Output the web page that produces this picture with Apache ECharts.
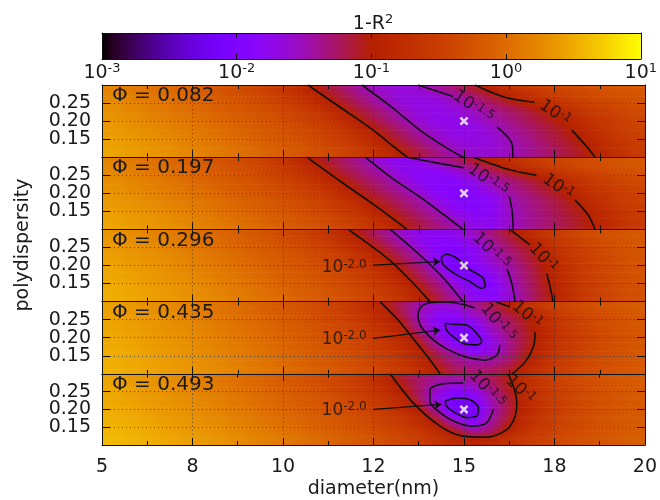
<!DOCTYPE html>
<html><head><meta charset="utf-8">
<script src="https://cdn.jsdelivr.net/npm/echarts@6/dist/echarts.min.js"></script>
<style>html,body{margin:0;padding:0;background:#fff}#c{width:660px;height:500px}</style>
</head><body><div id="c"></div>
<script>
// ---------------- data ----------------
const diameters = [5.25,5.75,6.25,6.75,7.25,7.75,8.25,8.75,9.25,9.75,10.25,10.75,11.25,11.75,12.25,12.75,13.25,13.75,14.25,14.75,15.25,15.75,16.25,16.75,17.25,17.75,18.25,18.75,19.25,19.75];
const polydispersities = [0.2875,0.2625,0.2375,0.2125,0.1875,0.1625,0.1375,0.1125];
const phiValues = ['0.082','0.197','0.296','0.435','0.493'];
const xTickLabels = ['5','8','10','12','15','18','20'];
const yTickLabels = ['0.15','0.20','0.25'];
const cbarExponents = ['-3','-2','-1','0','1'];
const bestFit = [15, 0.20];

// log10(1-R^2), rows = polydispersities, columns = diameters
const logErrPhi082 = [
[0.20,0.14,0.07,0.00,-0.08,-0.16,-0.24,-0.33,-0.43,-0.55,-0.70,-0.94,-1.13,-1.30,-1.47,-1.61,-1.65,-1.60,-1.45,-1.29,-1.12,-0.93,-0.73,-0.60,-0.49,-0.41,-0.34,-0.28,-0.24,-0.20],
[0.25,0.19,0.12,0.05,-0.02,-0.10,-0.18,-0.26,-0.35,-0.45,-0.59,-0.76,-1.01,-1.18,-1.35,-1.53,-1.66,-1.70,-1.65,-1.51,-1.34,-1.17,-1.01,-0.79,-0.64,-0.53,-0.43,-0.36,-0.30,-0.25],
[0.29,0.23,0.17,0.10,0.03,-0.05,-0.13,-0.21,-0.29,-0.38,-0.49,-0.63,-0.83,-1.06,-1.23,-1.41,-1.59,-1.70,-1.71,-1.63,-1.47,-1.34,-1.21,-1.09,-0.93,-0.73,-0.59,-0.49,-0.41,-0.34],
[0.33,0.27,0.21,0.15,0.08,0.01,-0.07,-0.15,-0.23,-0.31,-0.41,-0.52,-0.68,-0.90,-1.11,-1.29,-1.47,-1.66,-1.74,-1.72,-1.60,-1.44,-1.32,-1.20,-1.07,-0.91,-0.72,-0.58,-0.48,-0.40],
[0.37,0.31,0.26,0.20,0.13,0.06,-0.01,-0.09,-0.17,-0.25,-0.34,-0.44,-0.56,-0.73,-0.97,-1.17,-1.36,-1.55,-1.70,-1.75,-1.70,-1.55,-1.40,-1.27,-1.15,-1.02,-0.81,-0.65,-0.54,-0.44],
[0.40,0.35,0.30,0.24,0.18,0.11,0.04,-0.04,-0.12,-0.20,-0.28,-0.37,-0.47,-0.61,-0.80,-1.04,-1.23,-1.42,-1.60,-1.70,-1.71,-1.63,-1.47,-1.34,-1.21,-1.09,-0.92,-0.73,-0.59,-0.49],
[0.43,0.38,0.33,0.28,0.22,0.15,0.08,0.01,-0.07,-0.15,-0.22,-0.31,-0.41,-0.52,-0.67,-0.89,-1.11,-1.29,-1.47,-1.62,-1.68,-1.65,-1.52,-1.39,-1.26,-1.14,-1.02,-0.81,-0.65,-0.53],
[0.46,0.41,0.36,0.31,0.25,0.19,0.12,0.05,-0.02,-0.10,-0.18,-0.26,-0.35,-0.45,-0.58,-0.75,-0.99,-1.16,-1.33,-1.50,-1.60,-1.61,-1.53,-1.41,-1.29,-1.18,-1.06,-0.89,-0.71,-0.57]];
const logErrPhi197 = [
[0.20,0.13,0.06,-0.01,-0.09,-0.17,-0.25,-0.34,-0.43,-0.56,-0.73,-0.96,-1.13,-1.29,-1.44,-1.68,-1.80,-1.71,-1.46,-1.29,-1.12,-0.93,-0.74,-0.60,-0.49,-0.41,-0.34,-0.29,-0.24,-0.20],
[0.24,0.18,0.11,0.04,-0.03,-0.11,-0.19,-0.27,-0.36,-0.47,-0.60,-0.78,-1.02,-1.18,-1.34,-1.50,-1.74,-1.84,-1.82,-1.65,-1.42,-1.24,-1.05,-0.83,-0.67,-0.55,-0.45,-0.38,-0.32,-0.26],
[0.28,0.22,0.16,0.09,0.02,-0.06,-0.14,-0.22,-0.30,-0.40,-0.51,-0.65,-0.86,-1.07,-1.23,-1.39,-1.60,-1.82,-1.90,-1.85,-1.68,-1.45,-1.30,-1.15,-1.01,-0.79,-0.64,-0.52,-0.43,-0.36],
[0.32,0.26,0.20,0.14,0.07,0.00,-0.08,-0.16,-0.24,-0.32,-0.42,-0.54,-0.70,-0.93,-1.12,-1.28,-1.44,-1.68,-1.88,-1.93,-1.84,-1.61,-1.41,-1.26,-1.12,-0.96,-0.75,-0.61,-0.50,-0.42],
[0.36,0.31,0.25,0.19,0.12,0.05,-0.02,-0.10,-0.18,-0.26,-0.35,-0.45,-0.58,-0.76,-1.00,-1.16,-1.32,-1.48,-1.77,-1.93,-1.93,-1.79,-1.49,-1.35,-1.21,-1.07,-0.88,-0.70,-0.57,-0.47],
[0.39,0.34,0.29,0.23,0.17,0.10,0.03,-0.05,-0.13,-0.21,-0.29,-0.38,-0.49,-0.63,-0.82,-1.05,-1.21,-1.37,-1.58,-1.84,-1.93,-1.83,-1.55,-1.39,-1.26,-1.13,-0.99,-0.77,-0.62,-0.52],
[0.43,0.38,0.33,0.27,0.21,0.15,0.07,0.00,-0.07,-0.15,-0.23,-0.32,-0.41,-0.53,-0.68,-0.90,-1.10,-1.26,-1.43,-1.67,-1.84,-1.81,-1.58,-1.41,-1.29,-1.17,-1.05,-0.85,-0.68,-0.56],
[0.46,0.41,0.36,0.31,0.25,0.19,0.12,0.05,-0.02,-0.10,-0.18,-0.26,-0.35,-0.45,-0.58,-0.75,-0.99,-1.16,-1.32,-1.48,-1.73,-1.77,-1.57,-1.41,-1.30,-1.18,-1.07,-0.91,-0.72,-0.58]];
const logErrPhi296 = [
[0.33,0.28,0.22,0.15,0.08,0.01,-0.07,-0.14,-0.22,-0.31,-0.41,-0.52,-0.67,-0.89,-1.12,-1.35,-1.58,-1.75,-1.80,-1.73,-1.55,-1.32,-1.09,-0.83,-0.62,-0.50,-0.38,-0.30,-0.24,-0.19],
[0.37,0.31,0.26,0.20,0.13,0.06,-0.01,-0.09,-0.17,-0.25,-0.34,-0.44,-0.56,-0.73,-0.97,-1.20,-1.44,-1.72,-1.88,-1.88,-1.70,-1.43,-1.23,-1.03,-0.77,-0.58,-0.45,-0.35,-0.28,-0.22],
[0.40,0.35,0.30,0.24,0.18,0.11,0.04,-0.04,-0.12,-0.20,-0.28,-0.37,-0.47,-0.61,-0.80,-1.05,-1.29,-1.56,-1.87,-1.97,-1.85,-1.52,-1.31,-1.12,-0.89,-0.65,-0.51,-0.40,-0.31,-0.25],
[0.43,0.38,0.33,0.28,0.22,0.15,0.08,0.01,-0.07,-0.15,-0.22,-0.31,-0.41,-0.52,-0.67,-0.89,-1.15,-1.40,-1.84,-2.07,-1.83,-1.60,-1.39,-1.18,-0.97,-0.71,-0.54,-0.42,-0.33,-0.26],
[0.46,0.41,0.36,0.31,0.25,0.19,0.12,0.05,-0.03,-0.11,-0.18,-0.26,-0.35,-0.46,-0.59,-0.76,-1.02,-1.27,-1.56,-2.11,-1.97,-1.72,-1.47,-1.24,-1.00,-0.73,-0.55,-0.43,-0.34,-0.27],
[0.48,0.43,0.38,0.33,0.28,0.22,0.15,0.08,0.01,-0.07,-0.14,-0.22,-0.31,-0.40,-0.52,-0.67,-0.88,-1.14,-1.39,-1.76,-2.10,-1.86,-1.51,-1.27,-1.03,-0.76,-0.57,-0.45,-0.35,-0.28],
[0.50,0.46,0.41,0.36,0.31,0.25,0.18,0.12,0.04,-0.03,-0.11,-0.18,-0.26,-0.35,-0.46,-0.59,-0.76,-1.02,-1.28,-1.60,-1.94,-1.94,-1.60,-1.30,-1.06,-0.79,-0.59,-0.46,-0.36,-0.29],
[0.52,0.48,0.43,0.38,0.33,0.27,0.21,0.15,0.08,0.01,-0.07,-0.15,-0.22,-0.31,-0.41,-0.53,-0.67,-0.90,-1.16,-1.43,-1.76,-1.84,-1.62,-1.33,-1.09,-0.81,-0.61,-0.47,-0.37,-0.29]];
const logErrPhi435 = [
[0.42,0.37,0.31,0.25,0.19,0.13,0.06,-0.01,-0.09,-0.17,-0.25,-0.34,-0.44,-0.56,-0.74,-0.97,-1.22,-1.46,-1.64,-1.61,-1.41,-1.19,-0.97,-0.71,-0.54,-0.42,-0.33,-0.26,-0.21,-0.17],
[0.44,0.39,0.34,0.29,0.23,0.16,0.09,0.02,-0.05,-0.13,-0.21,-0.29,-0.39,-0.50,-0.64,-0.85,-1.15,-1.53,-1.80,-1.83,-1.59,-1.36,-1.18,-0.99,-0.73,-0.55,-0.43,-0.34,-0.27,-0.21],
[0.46,0.41,0.36,0.31,0.25,0.19,0.12,0.05,-0.02,-0.10,-0.18,-0.26,-0.35,-0.45,-0.58,-0.75,-0.99,-1.44,-1.82,-2.05,-1.82,-1.47,-1.26,-1.05,-0.78,-0.58,-0.45,-0.35,-0.28,-0.22],
[0.48,0.43,0.38,0.33,0.28,0.22,0.15,0.08,0.01,-0.07,-0.14,-0.22,-0.31,-0.40,-0.52,-0.67,-0.88,-1.26,-1.70,-2.09,-2.06,-1.59,-1.32,-1.09,-0.83,-0.62,-0.49,-0.38,-0.30,-0.24],
[0.49,0.45,0.40,0.35,0.30,0.24,0.18,0.11,0.04,-0.03,-0.11,-0.19,-0.27,-0.36,-0.47,-0.60,-0.78,-1.07,-1.49,-1.93,-2.09,-1.72,-1.36,-1.10,-0.82,-0.61,-0.49,-0.38,-0.30,-0.23],
[0.51,0.47,0.42,0.37,0.32,0.26,0.20,0.14,0.07,0.00,-0.08,-0.16,-0.24,-0.33,-0.43,-0.55,-0.70,-0.94,-1.23,-1.54,-1.85,-1.68,-1.33,-1.05,-0.77,-0.58,-0.45,-0.35,-0.28,-0.22],
[0.52,0.48,0.44,0.39,0.34,0.29,0.23,0.16,0.09,0.02,-0.05,-0.13,-0.21,-0.29,-0.39,-0.50,-0.64,-0.84,-1.13,-1.37,-1.48,-1.44,-1.27,-0.98,-0.71,-0.54,-0.42,-0.33,-0.26,-0.21],
[0.54,0.50,0.46,0.41,0.36,0.31,0.25,0.19,0.12,0.05,-0.02,-0.10,-0.18,-0.26,-0.35,-0.45,-0.58,-0.75,-1.00,-1.21,-1.30,-1.26,-1.11,-0.84,-0.62,-0.50,-0.39,-0.31,-0.24,-0.19]];
const logErrPhi493 = [
[0.44,0.39,0.34,0.29,0.23,0.16,0.09,0.02,-0.05,-0.13,-0.21,-0.29,-0.39,-0.50,-0.64,-0.84,-1.09,-1.28,-1.39,-1.42,-1.37,-1.23,-1.01,-0.74,-0.56,-0.43,-0.34,-0.27,-0.21,-0.17],
[0.46,0.41,0.36,0.31,0.25,0.19,0.12,0.05,-0.02,-0.10,-0.18,-0.26,-0.35,-0.45,-0.58,-0.75,-1.00,-1.26,-1.52,-1.75,-1.59,-1.31,-1.06,-0.79,-0.59,-0.46,-0.36,-0.29,-0.22,-0.18],
[0.48,0.43,0.38,0.33,0.27,0.21,0.15,0.08,0.01,-0.07,-0.15,-0.22,-0.31,-0.41,-0.53,-0.67,-0.89,-1.25,-1.70,-1.97,-1.87,-1.44,-1.11,-0.80,-0.60,-0.46,-0.37,-0.29,-0.23,-0.18],
[0.49,0.45,0.40,0.35,0.30,0.24,0.18,0.11,0.04,-0.03,-0.11,-0.19,-0.27,-0.36,-0.47,-0.60,-0.79,-1.09,-1.64,-2.16,-2.10,-1.52,-1.15,-0.83,-0.62,-0.49,-0.38,-0.30,-0.24,-0.19],
[0.52,0.48,0.43,0.38,0.33,0.27,0.21,0.15,0.08,0.01,-0.07,-0.15,-0.22,-0.31,-0.41,-0.53,-0.67,-0.89,-1.33,-2.06,-2.11,-1.50,-1.13,-0.80,-0.60,-0.46,-0.37,-0.29,-0.23,-0.18],
[0.54,0.50,0.46,0.41,0.36,0.31,0.25,0.19,0.12,0.05,-0.02,-0.10,-0.18,-0.26,-0.35,-0.45,-0.59,-0.76,-1.02,-1.44,-1.85,-1.39,-1.04,-0.75,-0.57,-0.44,-0.35,-0.28,-0.22,-0.17],
[0.58,0.54,0.50,0.45,0.40,0.35,0.30,0.24,0.18,0.11,0.04,-0.03,-0.11,-0.19,-0.27,-0.36,-0.46,-0.59,-0.78,-1.07,-1.39,-1.26,-0.87,-0.64,-0.50,-0.39,-0.31,-0.24,-0.19,-0.15],
[0.60,0.56,0.52,0.48,0.43,0.38,0.33,0.27,0.21,0.15,0.08,0.01,-0.06,-0.14,-0.22,-0.31,-0.41,-0.53,-0.67,-0.84,-0.92,-0.86,-0.70,-0.56,-0.45,-0.36,-0.29,-0.23,-0.18,-0.14]];

// contour segments [diameter, polydispersity]
const contoursPhi082 = [
 [[10.69,0.30],[11.57,0.239],[12.49,0.175],[13.04,0.131],[13.43,0.10]],
 [[12.18,0.30],[12.96,0.242],[13.78,0.175],[14.48,0.128],[14.97,0.10]],
 [[13.73,0.30],[14.70,0.268]],
 [[15.91,0.184],[16.27,0.148],[16.35,0.12],[16.35,0.10]],
 [[15.30,0.30],[16.10,0.267],[16.95,0.252]],
 [[17.98,0.175],[18.40,0.128],[18.62,0.10]]];
const contoursPhi197 = [
 [[10.66,0.30],[11.57,0.234],[12.49,0.170],[13.43,0.10]],
 [[12.27,0.30],[13.01,0.242],[13.78,0.19],[14.45,0.14],[14.97,0.10]],
 [[13.43,0.30],[14.2,0.285],[15.0,0.271]],
 [[16.25,0.192],[16.33,0.15],[16.36,0.10]],
 [[15.25,0.30],[16.27,0.265],[17.0,0.25]],
 [[18.07,0.181],[18.43,0.14],[18.62,0.10]]];
const contoursPhi296 = [
 [[11.80,0.30],[12.87,0.221],[13.51,0.16],[14.06,0.10]],
 [[12.96,0.30],[13.78,0.229],[14.48,0.16],[14.97,0.10]],
 [[16.19,0.19],[16.33,0.146],[16.41,0.10]],
 [[16.27,0.30],[16.82,0.257]],
 [[17.29,0.177],[17.38,0.14],[17.46,0.10]],
 [[14.38,0.224],[14.52,0.231],[14.80,0.22],[15.17,0.188],[15.53,0.165],[15.58,0.141],[15.49,0.137],[15.17,0.155],[14.80,0.174],[14.48,0.197],[14.38,0.215],[14.38,0.224]]];
const contoursPhi435 = [
 [[12.68,0.30],[13.18,0.249],[13.56,0.202],[13.98,0.149],[14.34,0.10]],
 [[15.99,0.18],[15.91,0.152],[15.58,0.138],[15.03,0.147],[14.34,0.18],[13.84,0.227],[13.73,0.263],[13.84,0.288],[14.06,0.297],[14.48,0.299],[14.95,0.293],[15.30,0.282]],
 [[15.86,0.30],[16.27,0.285]],
 [[16.96,0.216],[16.93,0.18],[16.69,0.133],[16.33,0.10]],
 [[14.48,0.24],[14.75,0.237],[15.07,0.235],[15.35,0.212],[15.49,0.189],[15.35,0.18],[14.98,0.184],[14.70,0.203],[14.52,0.221],[14.48,0.24]]];
const contoursPhi493 = [
 [[12.96,0.30],[13.59,0.219],[14.34,0.153],[14.97,0.125],[15.64,0.122],[16.19,0.144],[16.41,0.18],[16.46,0.219],[16.38,0.261],[16.22,0.30]],
 [[15.81,0.20],[15.63,0.163],[15.26,0.153],[14.80,0.163],[14.34,0.191],[14.06,0.223],[14.06,0.255],[14.43,0.272],[14.98,0.274]],
 [[14.48,0.223],[14.80,0.232],[15.17,0.227],[15.40,0.204],[15.35,0.181],[15.07,0.177],[14.75,0.191],[14.52,0.209],[14.48,0.223]]];

// contour labels: exponent and anchor [diameter, polydispersity]
const labelsPhi082 = [['-1.5',[15.25,0.239]],['-1',[17.51,0.222]]];
const labelsPhi197 = [['-1.5',[15.66,0.236]],['-1',[17.60,0.217]]];
const labelsPhi296 = [['-1.5',[15.75,0.24]],['-1',[17.18,0.221]],['-2.0',[11.69,0.193]]];
const labelsPhi435 = [['-1.5',[15.94,0.241]],['-1',[16.74,0.263]],['-2.0',[11.69,0.194]]];
const labelsPhi493 = [['-1.5',[15.64,0.256]],['-1',[16.55,0.255]],['-2.0',[11.69,0.196]]];
// arrows from the 10^-2.0 label to its contour
const arrowPhi296 = [[12.49,0.201],[14.34,0.211]];
const arrowPhi435 = [[12.49,0.198],[14.34,0.221]];
const arrowPhi493 = [[12.49,0.200],[14.38,0.214]];

// ---------------- style ----------------
const labelAngles = [[-35,-35],[-35,-35],[-45,-48,0],[-50,-40,0],[-48,-45,0]];
const FONT = 'DejaVu Sans';
const TXT = '#1a1a1a';
const LOG_MIN = -3, LOG_MAX = 1;
const CELL_W = 0.5, CELL_H = 0.025;
const SHADE_BANDS = 4;
const PANEL_TOP = 85, PANEL_H = 72.2, PLOT_L = 102, PLOT_W = 543;

function palette(t) {
  t = Math.max(0, Math.min(1, t));
  const r = Math.sqrt(t), g = t * t * t, b = Math.max(0, Math.sin(2 * Math.PI * t));
  return 'rgb(' + Math.round(r * 255) + ',' + Math.round(g * 255) + ',' + Math.round(b * 255) + ')';
}
function colorForLog(v) { return palette((v - LOG_MIN) / (LOG_MAX - LOG_MIN)); }

const panels = [
  {phi: phiValues[0], grid: logErrPhi082, contours: contoursPhi082, labels: labelsPhi082, arrow: null},
  {phi: phiValues[1], grid: logErrPhi197, contours: contoursPhi197, labels: labelsPhi197, arrow: null},
  {phi: phiValues[2], grid: logErrPhi296, contours: contoursPhi296, labels: labelsPhi296, arrow: arrowPhi296},
  {phi: phiValues[3], grid: logErrPhi435, contours: contoursPhi435, labels: labelsPhi435, arrow: arrowPhi435},
  {phi: phiValues[4], grid: logErrPhi493, contours: contoursPhi493, labels: labelsPhi493, arrow: arrowPhi493}
];

// smooth shading of one cell (drawing only: colours blended toward the neighbouring cells)
function makeCellRenderer(grid) {
  const nr = grid.length, nc = grid[0].length;
  const at = (r, c) => grid[Math.max(0, Math.min(nr - 1, r))][Math.max(0, Math.min(nc - 1, c))];
  return (params, api) => {
    const x = api.value(0), y = api.value(1);
    const r = api.value(3), c = api.value(4);
    const a = api.coord([x - CELL_W / 2, y + CELL_H / 2]);
    const b = api.coord([x + CELL_W / 2, y - CELL_H / 2]);
    const w = b[0] - a[0], h = b[1] - a[1];
    const children = [];
    for (let k = 0; k < SHADE_BANDS; k++) {
      const f = (k + 0.5) / SHADE_BANDS - 0.5;
      const nrow = f < 0 ? r - 1 : r + 1, wgt = Math.abs(f);
      const val = cc => at(r, cc) * (1 - wgt) + at(nrow, cc) * wgt;
      const vl = val(c - 1), v0 = val(c), vr = val(c + 1);
      const stops = [
        {offset: 0, color: colorForLog((vl + v0) / 2)},
        {offset: 0.25, color: colorForLog((vl + 3 * v0) / 4)},
        {offset: 0.5, color: colorForLog(v0)},
        {offset: 0.75, color: colorForLog((vr + 3 * v0) / 4)},
        {offset: 1, color: colorForLog((vr + v0) / 2)}];
      children.push({type: 'rect',
        shape: {x: a[0], y: a[1] + h * k / SHADE_BANDS, width: w + 0.6, height: h / SHADE_BANDS + 0.6},
        style: {fill: new echarts.graphic.LinearGradient(0, 0, 1, 0, stops)}});
    }
    return {type: 'group', children: children};
  };
}

const grids = [], xAxes = [], yAxes = [], series = [], graphics = [];
const axisLine = {show: true, onZero: false, lineStyle: {color: '#111', width: 1}};
const tickStyle = {color: '#111', width: 1};
const gridLine = {show: true, lineStyle: {color: '#3a3a3a', type: [1, 3], width: 1, opacity: 0.85}};

panels.forEach((p, i) => {
  const top = PANEL_TOP + PANEL_H * i;
  grids.push({left: PLOT_L, top: top, width: PLOT_W, height: PANEL_H});
  const xBase = {type: 'value', gridIndex: i, min: 5, max: 20, interval: 2.5, z: 4,
    axisLine: axisLine, axisTick: {show: true, inside: true, length: 7, lineStyle: tickStyle},
    minorTick: {show: true, splitNumber: 2, length: 4, lineStyle: tickStyle}};
  xAxes.push(Object.assign({}, xBase, {position: 'bottom', splitLine: gridLine,
    axisLabel: {show: i === 4, margin: 13, fontSize: 19, fontFamily: FONT, color: TXT,
      formatter: v => xTickLabels[Math.round((v - 5) / 2.5)]},
    name: i === 4 ? 'diameter(nm)' : '', nameLocation: 'middle', nameGap: 35,
    nameTextStyle: {fontSize: 19, fontFamily: FONT, color: TXT}}));
  xAxes.push(Object.assign({}, xBase, {position: 'top', splitLine: {show: false}, axisLabel: {show: false}}));
  const yBase = {type: 'value', gridIndex: i, min: 0.1, max: 0.3, interval: 0.05, z: 4,
    axisLine: axisLine, axisTick: {show: true, inside: true, length: 8, lineStyle: tickStyle}};
  yAxes.push(Object.assign({}, yBase, {position: 'left', splitLine: gridLine,
    axisLabel: {show: true, margin: 11, fontSize: 19, fontFamily: FONT, color: TXT,
      formatter: v => { const k = Math.round((v - 0.15) / 0.05); return (k >= 0 && k < yTickLabels.length) ? yTickLabels[k] : ''; }}}));
  yAxes.push(Object.assign({}, yBase, {position: 'right', splitLine: {show: false}, axisLabel: {show: false}}));

  const heat = [];
  p.grid.forEach((row, r) => row.forEach((v, c) => heat.push([diameters[c], polydispersities[r], v, r, c])));
  series.push({type: 'custom', xAxisIndex: 2 * i, yAxisIndex: 2 * i, z: 1, silent: true, animation: false,
    data: heat, encode: {x: 0, y: 1}, renderItem: makeCellRenderer(p.grid)});

  p.contours.forEach(seg => series.push({type: 'line', xAxisIndex: 2 * i, yAxisIndex: 2 * i, z: 5, silent: true,
    animation: false, data: seg, showSymbol: false, symbol: 'none', smooth: 0.3,
    lineStyle: {color: '#111', width: 1.6}}));

  series.push({type: 'scatter', xAxisIndex: 2 * i, yAxisIndex: 2 * i, z: 6, silent: true, animation: false,
    symbolSize: 0,
    data: p.labels.map((l, k) => ({value: l[1], label: {rotate: labelAngles[i][k], formatter: '{b|10}{s|' + l[0] + '}'}})),
    label: {show: true, position: 'inside', color: '#111',
      rich: {b: {fontSize: 17, fontFamily: FONT, color: '#111', lineHeight: 19},
             s: {fontSize: 12, fontFamily: FONT, color: '#111', verticalAlign: 'top', lineHeight: 13}}}});

  if (p.arrow) series.push({type: 'lines', coordinateSystem: 'cartesian2d', xAxisIndex: 2 * i, yAxisIndex: 2 * i,
    z: 5, silent: true, animation: false, symbol: ['none', 'arrow'], symbolSize: 7,
    lineStyle: {color: '#111', width: 1.3, opacity: 1, curveness: 0},
    data: [{coords: p.arrow}]});

  series.push({type: 'scatter', xAxisIndex: 2 * i, yAxisIndex: 2 * i, z: 7, silent: true, animation: false,
    symbol: 'path://M2,0L5,3L8,0L10,2L7,5L10,8L8,10L5,7L2,10L0,8L3,5L0,2Z', symbolSize: 9,
    itemStyle: {color: '#ffffff'}, data: [bestFit]});

  graphics.push({type: 'text', left: 112, top: top + 1, z: 100,
    style: {text: '\u03A6 = ' + p.phi, font: '20px "DejaVu Sans"', fill: TXT}});
});

// colour bar
const cb = panels.length;
grids.push({left: PLOT_L, top: 33, width: 542, height: 26});
xAxes.push({type: 'log', logBase: 10, min: 0.001, max: 10, gridIndex: cb, position: 'bottom', z: 4,
  axisLine: axisLine, axisTick: {show: true, inside: true, length: 5, lineStyle: tickStyle},
  splitLine: {show: false},
  axisLabel: {show: true, margin: 3, color: TXT,
    formatter: v => '{b|10}{s|' + cbarExponents[Math.round(Math.log10(v)) + 3] + '}',
    rich: {b: {fontSize: 19, fontFamily: FONT, color: TXT, lineHeight: 22},
           s: {fontSize: 13, fontFamily: FONT, color: TXT, verticalAlign: 'top', lineHeight: 14}}}});
xAxes.push({type: 'log', logBase: 10, min: 0.001, max: 10, gridIndex: cb, position: 'top', z: 4,
  axisLine: axisLine, axisTick: {show: true, inside: true, length: 5, lineStyle: tickStyle},
  splitLine: {show: false}, axisLabel: {show: false}});
yAxes.push({type: 'value', gridIndex: cb, min: 0, max: 1, position: 'left', z: 4, axisLine: axisLine,
  axisTick: {show: false}, axisLabel: {show: false}, splitLine: {show: false}});
yAxes.push({type: 'value', gridIndex: cb, min: 0, max: 1, position: 'right', z: 4, axisLine: axisLine,
  axisTick: {show: false}, axisLabel: {show: false}, splitLine: {show: false}});
const cbStops = [];
for (let k = 0; k <= 64; k++) cbStops.push({offset: k / 64, color: palette(k / 64)});
series.push({type: 'custom', xAxisIndex: 2 * cb, yAxisIndex: 2 * cb, z: 1, silent: true, animation: false,
  data: [[0.01, 0.5]], encode: {x: 0, y: 1},
  renderItem: (params) => {
    const cs = params.coordSys;
    return {type: 'rect', shape: {x: cs.x, y: cs.y, width: cs.width, height: cs.height},
      style: {fill: new echarts.graphic.LinearGradient(0, 0, 1, 0, cbStops)}};
  }});

graphics.push({type: 'text', x: 373, y: 24, z: 100,
  style: {text: '{a|1-R}{s|2}', align: 'center', verticalAlign: 'middle',
    rich: {a: {fontSize: 19, fontFamily: FONT, fill: TXT, color: TXT, lineHeight: 22},
           s: {fontSize: 13, fontFamily: FONT, fill: TXT, color: TXT, verticalAlign: 'top', lineHeight: 14}}}});
graphics.push({type: 'text', x: 23, y: 245, rotation: Math.PI / 2, z: 100,
  style: {text: 'polydispersity', align: 'center', verticalAlign: 'middle', font: '19px "DejaVu Sans"', fill: TXT}});

const chart = echarts.init(document.getElementById('c'), null, {renderer: 'canvas'});
chart.setOption({animation: false, backgroundColor: '#ffffff', grid: grids, xAxis: xAxes, yAxis: yAxes,
  series: series, graphic: graphics});
</script></body></html>
